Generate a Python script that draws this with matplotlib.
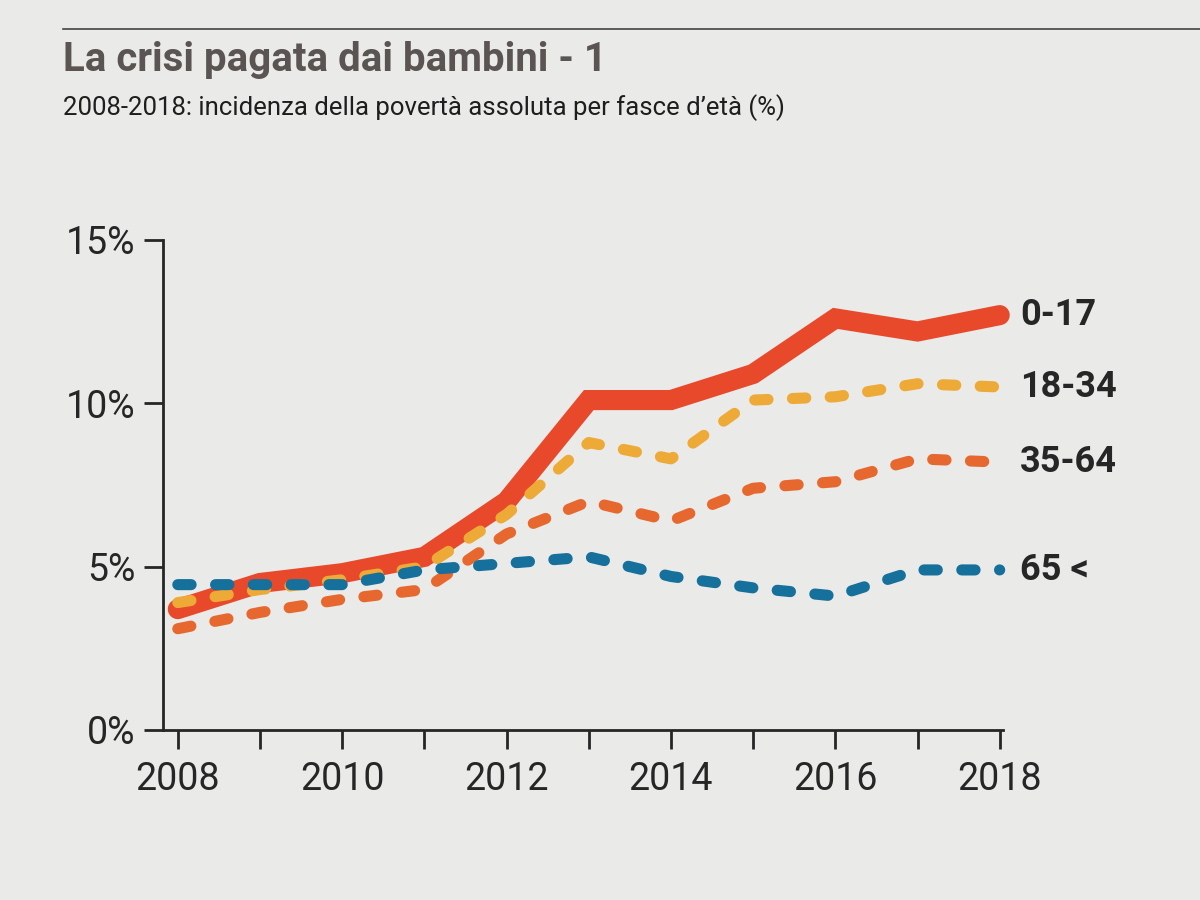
import matplotlib.pyplot as plt
from matplotlib.lines import Line2D
import numpy as np

years = np.arange(2008, 2019)
age_0_17 = [3.7, 4.5, 4.8, 5.3, 7.0, 10.1, 10.1, 10.9, 12.6, 12.2, 12.7]
age_18_34 = [3.9, 4.3, 4.6, 5.0, 6.6, 8.8, 8.3, 10.1, 10.2, 10.6, 10.5]
age_35_64 = [3.1, 3.6, 4.0, 4.3, 6.0, 7.0, 6.4, 7.4, 7.6, 8.3, 8.2]
age_65 = [4.45, 4.45, 4.45, 4.9, 5.1, 5.3, 4.7, 4.35, 4.1, 4.9, 4.9]
labels = ["0-17", "18-34", "35-64", "65 <"]
yticks = [0, 5, 10, 15]
yticklabels = ["0%", "5%", "10%", "15%"]

bg = '#eaeae8'
red = '#e8492a'
yellow = '#eeaa36'
orange = '#e7682e'
blue = '#16709c'
ink = '#262626'

plt.rcParams['font.family'] = ['Roboto', 'DejaVu Sans']

fig = plt.figure(figsize=(12, 9), dpi=100, facecolor=bg)
ax = fig.add_axes([163/1200, 1-730/900, (1003-163)/1200, (730-240)/900])
ax.set_facecolor(bg)

ax.plot(years, age_0_17, color=red, lw=14.5, solid_capstyle='round', solid_joinstyle='miter', zorder=3, clip_on=False)
# dashed series
ax.plot(years, age_35_64, color=orange, lw=8, dashes=(1.2, 2.2), dash_capstyle='round', zorder=4, clip_on=False)
ax.plot(years, age_18_34, color=yellow, lw=8, dashes=(1.2, 2.2), dash_capstyle='round', zorder=5, clip_on=False)
ax.plot(years, age_65, color=blue, lw=8, dashes=(1.2, 2.2), dash_capstyle='round', zorder=6, clip_on=False)

ends = [age_0_17[-1], age_18_34[-1], age_35_64[-1], age_65[-1]]
for lab, v in zip(labels, ends):
    ax.text(2018.25, v, lab, fontsize=26, fontweight='bold', color=ink, va='center', ha='left', clip_on=False)

ax.set_xlim(2007.82, 2018.04)
ax.set_ylim(0, 15)
ax.set_yticks(yticks)
ax.set_yticklabels(yticklabels)
ax.set_xticks(years)
ax.set_xticklabels([str(y) if y % 2 == 0 else "" for y in years])
for s in ['top', 'right']:
    ax.spines[s].set_visible(False)
for s in ['left', 'bottom']:
    ax.spines[s].set_linewidth(2)
    ax.spines[s].set_color(ink)
ax.tick_params(axis='both', length=14, width=2, color=ink, labelsize=27, labelcolor=ink, pad=6)
ax.tick_params(axis='x', pad=8)

fig.text(63/1200, 1-60/900, "La crisi pagata dai bambini - 1", fontsize=29, fontweight='bold', color='#5a5552', va='center', ha='left')
fig.text(63/1200, 1-108/900, "2008-2018: incidenza della povertà assoluta per fasce d’età (%)", fontsize=18.5, color='#1e1e1e', va='center', ha='left')
fig.add_artist(Line2D([63/1200, 1.0], [1-29/900, 1-29/900], color='#444', lw=1.2))

plt.savefig('out.png', dpi=100, facecolor=bg)
